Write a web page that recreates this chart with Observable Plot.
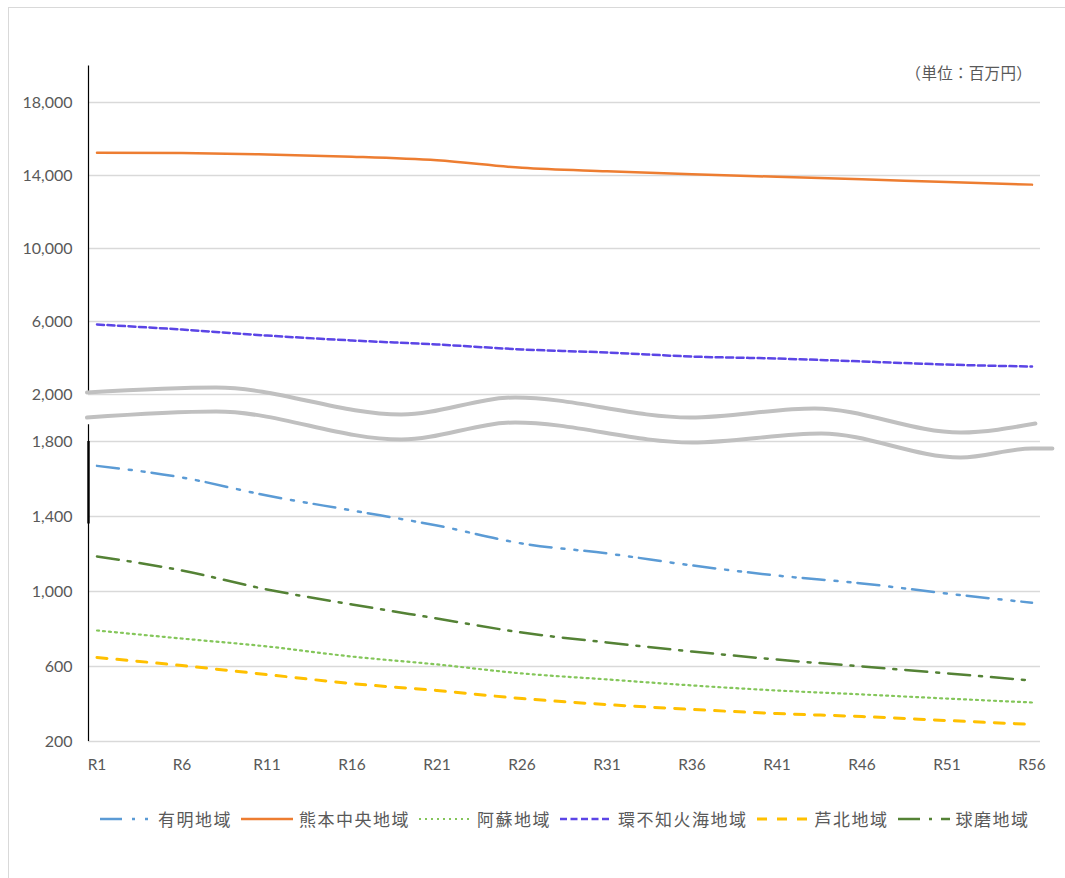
<!DOCTYPE html>
<html><head><meta charset="utf-8">
<script src="https://cdn.jsdelivr.net/npm/d3@7"></script>
<script src="https://cdn.jsdelivr.net/npm/@observablehq/plot@0.6"></script>
<style>
body{margin:0;background:#fff;font-family:Lato,"Noto Sans CJK JP",sans-serif;overflow:hidden;}
#frame{position:absolute;left:8px;top:7px;width:1200px;height:1000px;border-left:1.5px solid #d9d9d9;border-top:1.5px solid #d9d9d9;}
#chart{position:absolute;left:0;top:0;}
#unit{position:absolute;top:61px;right:33px;font-size:15.5px;letter-spacing:0.3px;color:#595959;font-family:"Noto Sans CJK JP",sans-serif;}
#legend{position:absolute;left:100px;top:806px;display:flex;align-items:center;font-size:17px;letter-spacing:1.5px;color:#595959;font-family:"Noto Sans CJK JP",sans-serif;white-space:nowrap;}
.item{display:flex;align-items:center;margin-right:9px}
.item svg{margin-right:6px}
</style></head><body>
<div id="frame"></div>
<div id="chart"></div>
<div id="unit">（単位：百万円）</div>
<div id="legend"></div>
<script>
// ---- data ----
const years = [1, 6, 11, 16, 21, 26, 31, 36, 41, 46, 51, 56];
const ariake   = [1670, 1608, 1512, 1432, 1352, 1256, 1203, 1139, 1085, 1043, 989, 940];
const kumamoto = [15250, 15230, 15150, 15030, 14830, 14420, 14230, 14070, 13930, 13790, 13640, 13500];
const aso      = [792, 749, 707, 653, 611, 563, 531, 499, 472, 451, 429, 408];
const shiranui = [5835, 5560, 5230, 4960, 4740, 4470, 4300, 4080, 3970, 3810, 3640, 3530];
const ashikita = [648, 605, 557, 509, 472, 429, 397, 371, 349, 333, 312, 291];
const kuma     = [1187, 1112, 1011, 931, 856, 781, 728, 680, 637, 600, 563, 525];
const seriesNames = ["有明地域", "熊本中央地域", "阿蘇地域", "環不知火海地域", "芦北地域", "球磨地域"];
const yTicks = [200, 600, 1000, 1400, 1800, 2000, 6000, 10000, 14000, 18000];
// break-mark waves (year position, value on the display axis)
const waveX     = [0.41, 8.0, 18.9, 25.6, 35.9, 43.2, 51.8, 56.2];
const waveUpper = [349, 354, 327, 344, 324, 333, 309, 318];
const waveLowerX = [0.41, 8.0, 18.9, 25.6, 36.0, 43.6, 51.8, 56.0, 57.2];
const waveLower = [324, 330, 302, 319, 299, 308, 284, 293, 293];

// ---- broken axis transform ----
function tr(v) { return v < 1950 ? (v - 200) * 75 / 400 : 347 + (v - 2000) * 73 / 4000; }

const styles = [
  {data: ariake,   stroke: "#5B9BD5", dash: "22,10,3,10,3,7", w: 2.5},
  {data: kumamoto, stroke: "#ED7D31", dash: null, w: 2.5},
  {data: aso,      stroke: "#84C65A", dash: "2,4", w: 2.2},
  {data: shiranui, stroke: "#5B45E6", dash: "7,3.5", w: 2.5},
  {data: ashikita, stroke: "#FFC000", dash: "10,10", w: 3},
  {data: kuma,     stroke: "#548235", dash: "22,9,3,9", w: 2.5}
];

const rows = (arr) => years.map((y, i) => ({year: y, value: arr[i]}));
const fmt = d3.format(",");

const marks = [
  Plot.ruleY(yTicks, {y: d => tr(d), x1: 0.5, x2: 56.5, stroke: "#d9d9d9", strokeWidth: 1.3}),
  Plot.ruleX([[2000, 20000], [1890, 200]], {x: () => 0.5, y1: d => tr(d[0]), y2: d => tr(d[1]), stroke: "#000", strokeWidth: 1.2}),
  Plot.ruleX([[1360, 1800]], {x: () => 0.5, y1: d => tr(d[0]), y2: d => tr(d[1]), stroke: "#000", strokeWidth: 2.4}),
  Plot.line(waveX.map((x, i) => ({x, y: waveUpper[i]})), {x: "x", y: "y", curve: "monotone-x", stroke: "#c0c0c0", strokeWidth: 4}),
  Plot.line(waveLowerX.map((x, i) => ({x, y: waveLower[i]})), {x: "x", y: "y", curve: "monotone-x", stroke: "#c0c0c0", strokeWidth: 4}),
  ...styles.map(s => Plot.line(rows(s.data), {x: "year", y: d => tr(d.value), stroke: s.stroke, strokeWidth: s.w, strokeDasharray: s.dash, curve: "monotone-x"})),
  Plot.text(yTicks, {x: 0.5, y: d => tr(d), text: d => fmt(d), textAnchor: "end", dx: -16, fontSize: 16, fill: "#595959"}),
  Plot.text(years, {x: d => d, y: () => tr(200), text: d => "R" + d, dy: 24, fontSize: 15.5, fill: "#595959"})
];

const chart = Plot.plot({
  width: 1065,
  height: 790,
  style: {fontFamily: "Lato, 'Noto Sans CJK JP', sans-serif", background: "transparent", overflow: "visible"},
  x: {domain: [0.5, 56.5], range: [88, 1040], axis: null},
  y: {domain: [0, 675.5], range: [741, 65.5], axis: null},
  marks
});
document.getElementById("chart").appendChild(chart);

// ---- legend ----
const legend = document.getElementById("legend");
styles.forEach((s, i) => {
  const item = document.createElement("div");
  item.className = "item";
  item.innerHTML = `<svg width="52" height="10"><line x1="0" y1="5" x2="52" y2="5" stroke="${s.stroke}" stroke-width="${s.w}" ${s.dash ? `stroke-dasharray="${s.dash}"` : ""}/></svg><span>${seriesNames[i]}</span>`;
  legend.appendChild(item);
});
</script>
</body></html>
